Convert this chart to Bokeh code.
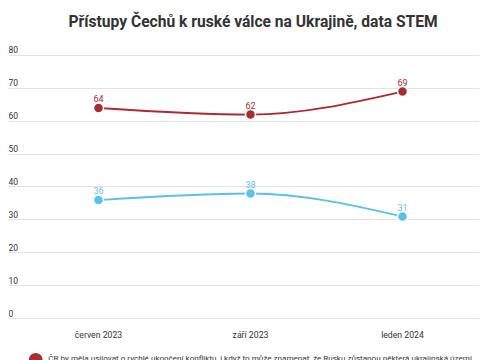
from bokeh.plotting import figure
from bokeh.layouts import column
from bokeh.models import Range1d, FixedTicker, ColumnDataSource
from bokeh.core.properties import value
from bokeh.embed import file_html
from bokeh.resources import INLINE

# ---- data ----
categories = ["červen 2023", "září 2023", "leden 2024"]
red_values = [64, 62, 69]
blue_values = [36, 38, 31]
y_ticks = [0, 10, 20, 30, 40, 50, 60, 70, 80]
title_text = "Přístupy Čechů k ruské válce na Ukrajině, data STEM"
red_name = "ČR by měla usilovat o rychlé ukončení konfliktu, i když to může znamenat, že Rusku zůstanou některá ukrajinská území"

RED = "#ab2b30"
BLUE = "#5ac2e8"
TXT = "#333333"
GRID = "#e3e3e3"
FONT = "Roboto"

W = 485
ML, MR = 8, 6
FW = W - ML - MR
xs = list(range(len(categories)))


def monotone_beziers(x, y):
    n = len(x)
    s = [(y[i + 1] - y[i]) / (x[i + 1] - x[i]) for i in range(n - 1)]
    t = [0.0] * n
    for i in range(1, n - 1):
        s0, s1 = s[i - 1], s[i]
        if s0 * s1 <= 0:
            t[i] = 0.0
        else:
            h0, h1 = x[i] - x[i - 1], x[i + 1] - x[i]
            p_ = (s0 * h1 + s1 * h0) / (h0 + h1)
            sg = (1 if s0 > 0 else -1) + (1 if s1 > 0 else -1)
            t[i] = sg * min(abs(s0), abs(s1), 0.5 * abs(p_))
    t[0] = (3 * s[0] - t[1]) / 2
    t[-1] = (3 * s[-1] - t[-2]) / 2
    d = dict(x0=[], y0=[], x1=[], y1=[], cx0=[], cy0=[], cx1=[], cy1=[])
    for i in range(n - 1):
        dx = (x[i + 1] - x[i]) / 3
        d["x0"].append(x[i]); d["y0"].append(y[i])
        d["x1"].append(x[i + 1]); d["y1"].append(y[i + 1])
        d["cx0"].append(x[i] + dx); d["cy0"].append(y[i] + dx * t[i])
        d["cx1"].append(x[i + 1] - dx); d["cy1"].append(y[i + 1] - dx * t[i + 1])
    return d


x_start = -90 / 152
x_end = (FW - 90) / 152

p = figure(width=W, height=342, output_backend="svg", toolbar_location=None,
           x_range=Range1d(x_start, x_end), y_range=Range1d(0, 83.0),
           min_border_left=ML, min_border_right=MR, min_border_top=45,
           min_border_bottom=22)
p.title.text = title_text
p.title.align = "left"
p.title.vertical_align = "top"
p.title.offset = 60
p.title.text_font = FONT
p.title.text_font_style = "bold"
p.title.text_font_size = "15.6px"
p.title.text_color = TXT
p.title.standoff = 25
p.outline_line_color = None
p.background_fill_color = "white"
p.border_fill_color = "white"

p.yaxis.visible = False
p.yaxis.ticker = FixedTicker(ticks=y_ticks)
p.ygrid.ticker = FixedTicker(ticks=y_ticks)
p.ygrid.grid_line_color = GRID
p.ygrid.grid_line_width = 1
p.xgrid.visible = False

p.xaxis.ticker = FixedTicker(ticks=xs)
p.xaxis.major_label_overrides = {i: c for i, c in zip(xs, categories)}
p.xaxis.axis_line_color = GRID
p.xaxis.major_tick_line_color = None
p.xaxis.minor_tick_line_color = None
p.xaxis.major_label_text_font = FONT
p.xaxis.major_label_text_font_size = "8.7px"
p.xaxis.major_label_text_color = TXT
p.xaxis.major_label_standoff = 5

# y tick labels (inside plot, above grid lines)
p.text(x=[x_start] * len(y_ticks), y=y_ticks, text=[str(v) for v in y_ticks],
       text_font=value(FONT), text_font_size="8.5px", text_color=TXT,
       text_baseline="bottom", text_align="left", y_offset=-2)

for vals, col in ((red_values, RED), (blue_values, BLUE)):
    bz = monotone_beziers(xs, vals)
    p.bezier(source=ColumnDataSource(bz), x0="x0", y0="y0", x1="x1", y1="y1",
             cx0="cx0", cy0="cy0", cx1="cx1", cy1="cy1",
             line_color=col, line_width=1.8)
    p.scatter(xs, vals, size=10, fill_color=col, line_color="white", line_width=1.5)
    p.text(xs, vals, text=[str(v) for v in vals], text_font=value(FONT),
           text_font_size="9px", text_color=col, text_align="center",
           text_baseline="bottom", y_offset=-6)

# legend strip (cut off by the bottom edge, as in the original)
LH = 18
lg = figure(width=W, height=LH, output_backend="svg", toolbar_location=None,
            x_range=Range1d(0, W), y_range=Range1d(0, LH),
            min_border_left=0, min_border_right=0, min_border_top=0,
            min_border_bottom=0)
lg.axis.visible = False
lg.grid.visible = False
lg.outline_line_color = None
lg.scatter([28], [0.5], size=14, fill_color=RED, line_color=None)
lg.text([41], [2.5], text=[red_name], text_font=value(FONT), text_font_size="8.1px",
        text_color=TXT, text_baseline="middle", text_align="left")

layout = column(p, lg, spacing=0)
open("out.html", "w").write(file_html(layout, INLINE))
